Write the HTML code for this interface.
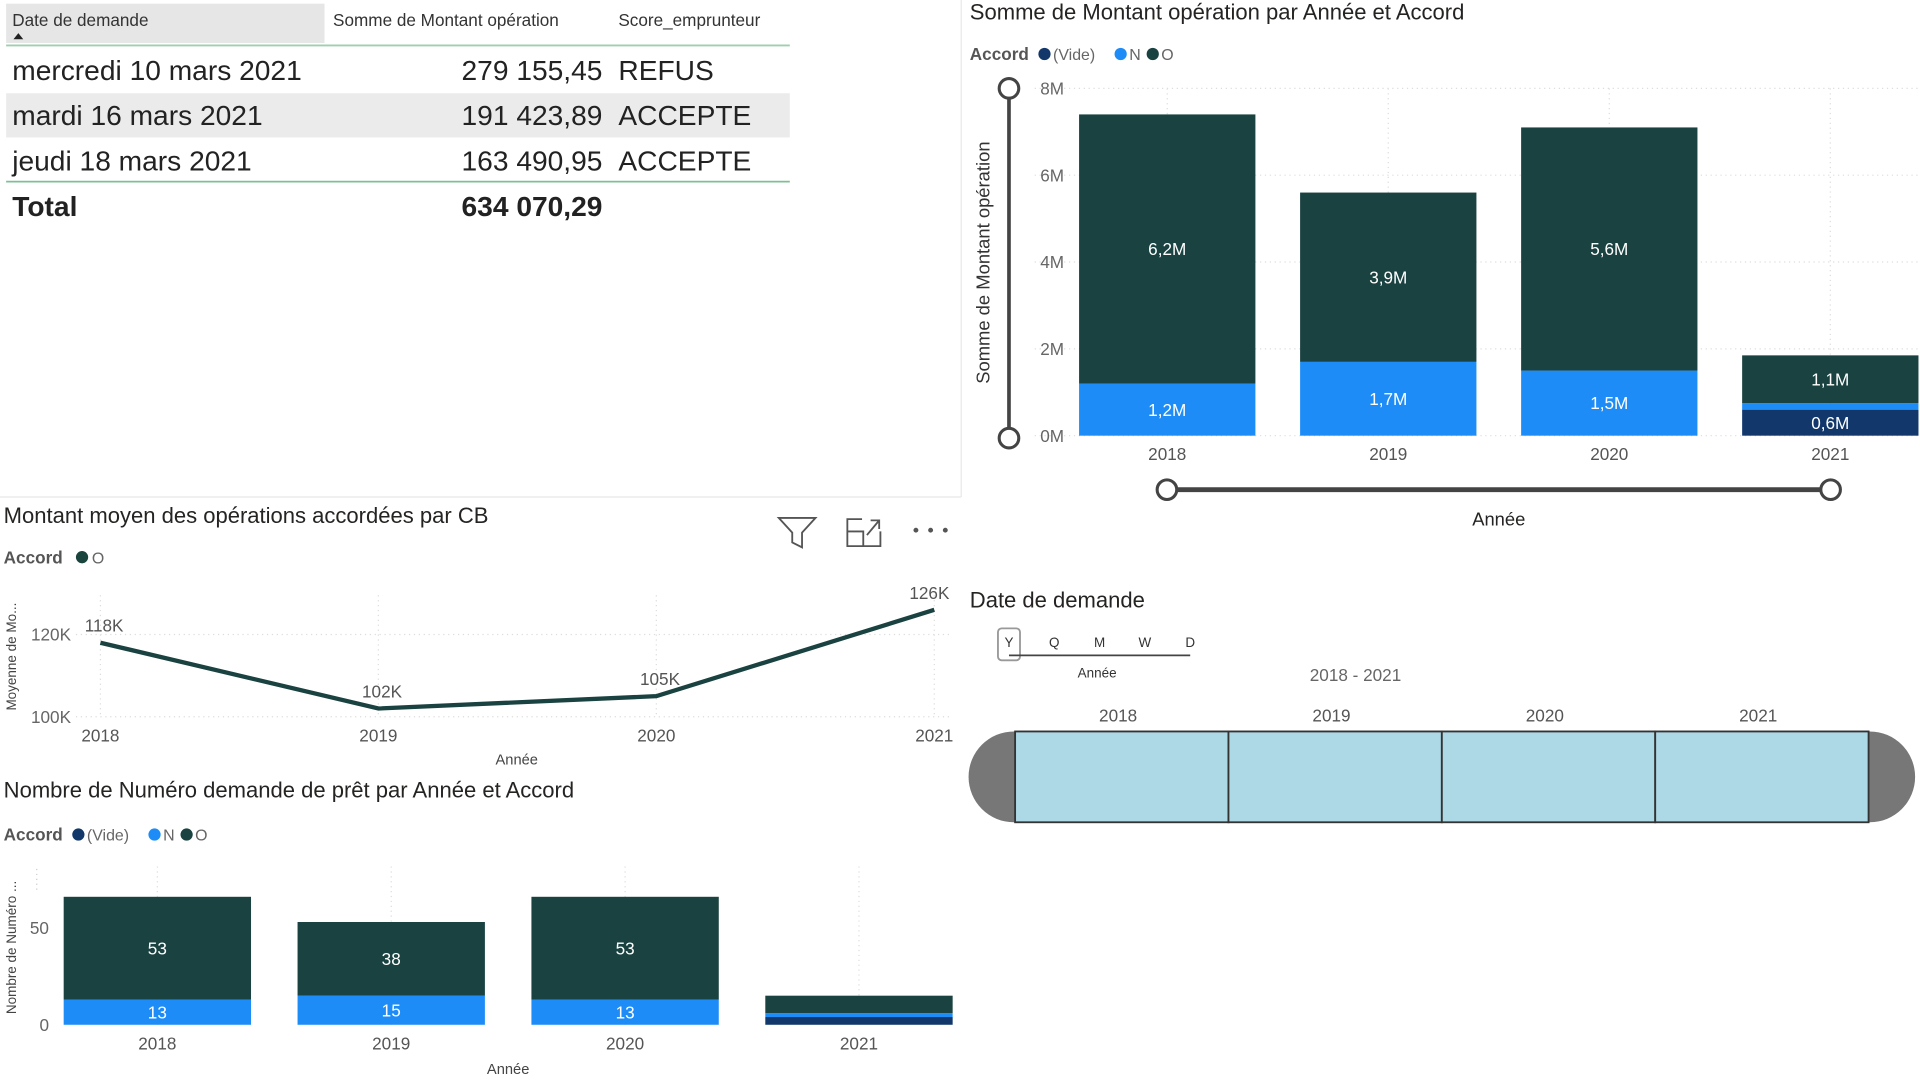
<!DOCTYPE html>
<html><head><meta charset="utf-8"><style>
html,body{margin:0;padding:0;background:#fff;width:1920px;height:1080px;overflow:hidden}
svg{display:block;font-family:"Liberation Sans",sans-serif}
</style></head><body>
<svg id="root" width="1920" height="1080" viewBox="0 0 1568 880" preserveAspectRatio="none">
<!-- Table -->
<g>
<rect x="5" y="3" width="260" height="32" fill="#e6e6e6"/>
<text x="10" y="21" font-size="14" fill="#333">Date de demande</text>
<path d="M11 32 L15 27 L19 32Z" fill="#222"/>
<text x="272" y="21" font-size="14" fill="#333">Somme de Montant opération</text>
<text x="505" y="21" font-size="14" fill="#333">Score_emprunteur</text>
<line x1="5" y1="37" x2="645" y2="37" stroke="#9fcfaf" stroke-width="1.5"/>
<rect x="5" y="76" width="640" height="36" fill="#ebebeb"/>
<g font-size="23" fill="#222">
<text x="10" y="65">mercredi 10 mars 2021</text>
<text x="492" y="65" text-anchor="end">279 155,45</text>
<text x="505" y="65">REFUS</text>
<text x="10" y="102">mardi 16 mars 2021</text>
<text x="492" y="102" text-anchor="end">191 423,89</text>
<text x="505" y="102">ACCEPTE</text>
<text x="10" y="139">jeudi 18 mars 2021</text>
<text x="492" y="139" text-anchor="end">163 490,95</text>
<text x="505" y="139">ACCEPTE</text>
</g>
<line x1="5" y1="148" x2="645" y2="148" stroke="#7fbf95" stroke-width="1.5"/>
<text x="10" y="176" font-size="23" font-weight="bold" fill="#222">Total</text>
<text x="492" y="176" font-size="23" font-weight="bold" fill="#222" text-anchor="end">634 070,29</text>
</g>
<line x1="0" y1="405" x2="785" y2="405" stroke="#e8e8e8"/>
<line x1="785" y1="0" x2="785" y2="405" stroke="#e8e8e8"/>

<!-- Top right chart -->
<text x="792" y="16" font-size="18" fill="#252423">Somme de Montant opération par Année et Accord</text>
<g id="leg1"></g>
<text transform="translate(808,214) rotate(-90)" font-size="15" fill="#333" text-anchor="middle">Somme de Montant opération</text>
<g>
<line x1="824" y1="72" x2="824" y2="357" stroke="#444" stroke-width="3"/>
<circle cx="824" cy="72" r="8" fill="#fff" stroke="#444" stroke-width="2.5"/>
<circle cx="824" cy="357" r="8" fill="#fff" stroke="#444" stroke-width="2.5"/>
</g>
<g id="c1"></g>
<g>
<line x1="953" y1="399" x2="1495" y2="399" stroke="#444" stroke-width="4"/>
<circle cx="953" cy="399" r="8" fill="#fff" stroke="#444" stroke-width="2.5"/>
<circle cx="1495" cy="399" r="8" fill="#fff" stroke="#444" stroke-width="2.5"/>
</g>
<text x="1224" y="428" font-size="15" fill="#252423" text-anchor="middle">Année</text>

<!-- Line chart -->
<text x="3" y="426" font-size="18" fill="#252423">Montant moyen des opérations accordées par CB</text>
<g>
<path d="M636 422 L666 422 L655 434 L655 446 L647 442 L647 434 Z" fill="none" stroke="#555" stroke-width="1.5"/>
<g fill="none" stroke="#555" stroke-width="1.5"><path d="M704 423 L692 423 L692 445 L719 445 L719 433"/><path d="M692 433 L705 433 L705 445"/><path d="M708 436 L718 424 M711 424 L718 424 L718 431"/></g>
<g fill="#555"><circle cx="748" cy="432" r="2"/><circle cx="760" cy="432" r="2"/><circle cx="772" cy="432" r="2"/></g>
</g>
<text x="3" y="459" font-size="14" font-weight="bold" fill="#555">Accord</text>
<circle cx="67" cy="454" r="5" fill="#1a443d"/>
<text x="75" y="459" font-size="13" fill="#666">O</text>
<text transform="translate(13,535) rotate(-90)" font-size="11" fill="#444" text-anchor="middle">Moyenne de Mo...</text>
<g id="c2"></g>
<text x="422" y="623" font-size="12" fill="#444" text-anchor="middle">Année</text>

<!-- Bottom bar chart -->
<text x="3" y="650" font-size="18" fill="#252423">Nombre de Numéro demande de prêt par Année et Accord</text>
<g id="leg3"></g>
<text transform="translate(13,772) rotate(-90)" font-size="11" fill="#444" text-anchor="middle">Nombre de Numéro ...</text>
<g id="c3"></g>
<text x="415" y="875" font-size="12" fill="#444" text-anchor="middle">Année</text>

<!-- Timeline slicer -->
<text x="792" y="495" font-size="18" fill="#252423">Date de demande</text>
<g>
<rect x="815" y="512" width="18" height="26" rx="3" fill="none" stroke="#999" stroke-width="1.5"/>
<line x1="824" y1="534" x2="972" y2="534" stroke="#444" stroke-width="1.5"/>
<g font-size="11" fill="#333" text-anchor="middle">
<text x="824" y="527">Y</text><text x="861" y="527">Q</text><text x="898" y="527">M</text><text x="935" y="527">W</text><text x="972" y="527">D</text>
</g>
<text x="896" y="552" font-size="11" fill="#333" text-anchor="middle">Année</text>
</g>
<text x="1107" y="555" font-size="14" fill="#666" text-anchor="middle">2018 - 2021</text>
<g id="tl">
<path d="M829 596 L829 670 L828 670 A37 37 0 0 1 828 596 Z" fill="#777"/>
<path d="M1526 596 L1526 670 L1527 670 A37 37 0 0 0 1527 596 Z" fill="#777"/>
</g>

<script>
const NS="http://www.w3.org/2000/svg";
function mk(p,t,a,txt){const e=document.createElementNS(NS,t);for(const k in a)e.setAttribute(k,a[k]);if(txt!==undefined)e.textContent=txt;p.appendChild(e);return e;}
const C_VIDE="#12386b",C_N="#1e8cf7",C_O="#1a4240";

// Chart 1 data
const years1=["2018","2019","2020","2021"];
const vide1=[0,0,0,0.6];
const n1=[1.2,1.7,1.5,0.15];
const o1=[6.2,3.9,5.6,1.1];
const labN1=["1,2M","1,7M","1,5M",""];
const labO1=["6,2M","3,9M","5,6M","1,1M"];
const labV1=["","","","0,6M"];
const ticks1=[0,2,4,6,8];
const tickLab1=["0M","2M","4M","6M","8M"];

// Chart 2 data
const years2=["2018","2019","2020","2021"];
const avg2=[118,102,105,126];
const avgLab2=["118K","102K","105K","126K"];
const ticks2=[100,120];
const tickLab2=["100K","120K"];

// Chart 3 data
const years3=["2018","2019","2020","2021"];
const vide3=[0,0,0,4];
const n3=[13,15,13,2];
const o3=[53,38,53,9];
const labN3=["13","15","13",""];
const labO3=["53","38","53",""];
const ticks3=[0,50];

const timelineYears=["2018","2019","2020","2021"];

function legend(g,x,y,title){
  mk(g,"text",{x:x,y:y+5,"font-size":14,"font-weight":"bold",fill:"#555"},title);
  const items=[["(Vide)",C_VIDE],["N",C_N],["O",C_O]];let cx=x+61;
  items.forEach(([l,c])=>{const d=mk(g,"circle",{cx:cx,cy:y,r:5,fill:c});


const t=mk(g,"text",{x:cx+7,y:y+5,"font-size":13,fill:"#666"},l);


cx+=7+l.length*7.2+12;});
}
legend(document.getElementById("leg1"),792,44,"Accord");
legend(document.getElementById("leg3"),3,680,"Accord");

function stacked(g,years,series,labels,x0,band,barW,y0,scale,xlabY,gridTop,lblSize){
  // grid
  for(let i=0;i<=years.length;i++){const gx=x0+band*i+(band-barW)/2-(band-barW)/2;}
  years.forEach((yr,i)=>{
    const cx=x0+band*i+band/2;
    mk(g,"line",{x1:cx,y1:gridTop,x2:cx,y2:y0,stroke:"#ddd","stroke-dasharray":"1 3"});
  });
  years.forEach((yr,i)=>{
    const bx=x0+band*i+(band-barW)/2;let base=0;
    series.forEach((s,k)=>{
      const v=s.vals[i];if(v<=0){return;}
      const yT=y0-(base+v)*scale,h=v*scale;
      const r=mk(g,"rect",{x:bx,y:yT,width:barW,height:h,fill:s.color});
      
      
      const lab=labels[k][i];
      if(lab){const t=mk(g,"text",{x:bx+barW/2,y:yT+h/2+5,"font-size":lblSize,fill:"#fff","text-anchor":"middle"},lab);
        
        }
      base+=v;
    });
    const xl=mk(g,"text",{x:bx+barW/2,y:xlabY,"font-size":14,fill:"#555","text-anchor":"middle"},yr);
    
    
  });
}

// Chart 1
(function(){
  const g=document.getElementById("c1");const y0=355,sc=(355-72)/8;
  ticks1.forEach((t,i)=>{const y=y0-t*sc;
    mk(g,"line",{x1:845,y1:y,x2:1568,y2:y,stroke:"#ddd","stroke-dasharray":"1 3"});
    const tl=mk(g,"text",{x:869,y:y+5,"font-size":14,fill:"#666","text-anchor":"end"},tickLab1[i]);
    
    
  });
  stacked(g,years1,[{key:"vide",vals:vide1,color:C_VIDE},{key:"n",vals:n1,color:C_N},{key:"o",vals:o1,color:C_O}],[labV1,labN1,labO1],863,180.5,144,y0,sc,375,72,14);
})();

// Chart 2
(function(){
  const g=document.getElementById("c2");const y0=584,sc=(584-517)/20,x0=82,step=227;
  ticks2.forEach((t,i)=>{const y=y0-(t-100)*sc;
    mk(g,"line",{x1:62,y1:y,x2:775,y2:y,stroke:"#ddd","stroke-dasharray":"1 3"});
    const tl=mk(g,"text",{x:58,y:y+5,"font-size":14,fill:"#666","text-anchor":"end"},tickLab2[i]);
    
    
  });
  const pts=avg2.map((v,i)=>[x0+step*i,y0-(v-100)*sc]);
  pts.forEach((p,i)=>{
    mk(g,"line",{x1:p[0],y1:485,x2:p[0],y2:y0,stroke:"#ddd","stroke-dasharray":"1 3"});
  });
  const ln=mk(g,"polyline",{points:pts.map(p=>p.join(",")).join(" "),fill:"none",stroke:C_O,"stroke-width":3.5});
  
  
  pts.forEach((p,i)=>{
    const lx=i==3?p[0]-4:p[0]+3;
    const t=mk(g,"text",{x:lx,y:p[1]-9,"font-size":14,fill:"#555","text-anchor":"middle"},avgLab2[i]);
    
    
    const xl=mk(g,"text",{x:p[0],y:604,"font-size":14,fill:"#555","text-anchor":"middle"},years2[i]);
    
    
  });
})();

// Chart 3
(function(){
  const g=document.getElementById("c3");const y0=835,sc=(835-756)/50;
  ticks3.forEach(t=>{const y=y0-t*sc;
    const tl=mk(g,"text",{x:40,y:y+5,"font-size":14,fill:"#666","text-anchor":"end"},String(t));
    
    
  });
  mk(g,"line",{x1:30,y1:708,x2:30,y2:728,stroke:"#ccc","stroke-dasharray":"1 3"});
  stacked(g,years3,[{key:"vide",vals:vide3,color:C_VIDE},{key:"n",vals:n3,color:C_N},{key:"o",vals:o3,color:C_O}],[["","","",""],labN3,labO3],33,191,153,y0,sc,855,706,14);
})();

// Timeline
(function(){
  const g=document.getElementById("tl");const x0=829,w=174.25;
  timelineYears.forEach((y,i)=>{
    const r=mk(g,"rect",{x:x0+w*i,y:596,width:w,height:74,fill:"#add8e6",stroke:"#333","stroke-width":1.5});
    
    
    const t=mk(g,"text",{x:x0+w*i+w/2-3,y:588,"font-size":14,fill:"#555","text-anchor":"middle"},y);
    
    
  });
})();
</script>
</svg>
</body></html>
